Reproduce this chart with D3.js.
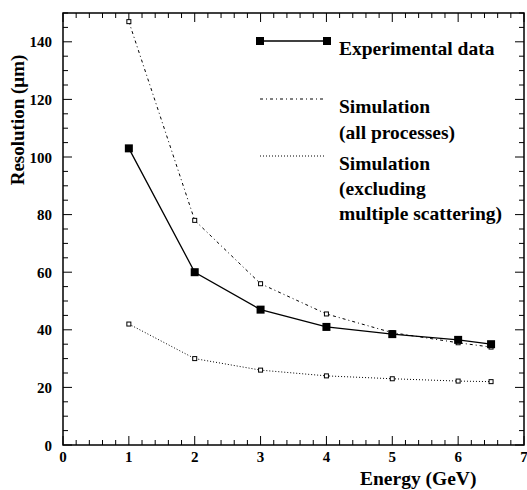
<!DOCTYPE html>
<html><head><meta charset="utf-8">
<script src="https://cdn.jsdelivr.net/npm/d3@7"></script>
<style>body{margin:0;background:#fff}</style>
</head><body><svg id="c" width="527" height="490" font-family="'Liberation Serif','Times New Roman','DejaVu Serif',serif" font-weight="bold"></svg>
<script>
const energy = [1, 2, 3, 4, 5, 6, 6.5];
const experimental = [103, 60, 47, 41, 38.5, 36.5, 35];
const simAll = [147, 78, 56, 45.5, 39, 35.5, 34];
const simNoMS = [42, 30, 26, 24, 23, 22.2, 22];
const xTicks = [0, 1, 2, 3, 4, 5, 6, 7];
const yTicks = [0, 20, 40, 60, 80, 100, 120, 140];

const svg = d3.select("#c");
const L = 63, R = 524, T = 13, B = 445;
const x = d3.scaleLinear().domain([0, 7]).range([L, R]);
const y = d3.scaleLinear().domain([0, 150]).range([B, T]);

const g = svg.append("g");
g.append("rect").attr("x", L).attr("y", T).attr("width", R - L).attr("height", B - T)
  .attr("fill", "none").attr("stroke", "#000").attr("stroke-width", 1.5);

const xMinor = d3.range(0, 7.001, 0.2);
const yMinor = d3.range(0, 150.001, 5);
xMinor.forEach(v => {
  const major = Math.abs(v - Math.round(v)) < 1e-6;
  const len = major ? 9 : 5;
  g.append("line").attr("x1", x(v)).attr("x2", x(v)).attr("y1", B).attr("y2", B - len).attr("stroke", "#000");
  g.append("line").attr("x1", x(v)).attr("x2", x(v)).attr("y1", T).attr("y2", T + len).attr("stroke", "#000");
});
yMinor.forEach(v => {
  const major = v % 20 === 0;
  const len = major ? 9 : 5;
  g.append("line").attr("x1", L).attr("x2", L + len).attr("y1", y(v)).attr("y2", y(v)).attr("stroke", "#000");
  g.append("line").attr("x1", R).attr("x2", R - len).attr("y1", y(v)).attr("y2", y(v)).attr("stroke", "#000");
});
xTicks.forEach(v => {
  g.append("text").attr("x", x(v)).attr("y", B + 17).attr("text-anchor", "middle")
    .attr("font-size", 15).text(v);
});
yTicks.forEach(v => {
  g.append("text").attr("x", L - 11).attr("y", y(v) + 5.5).attr("text-anchor", "end")
    .attr("font-size", 15).text(v);
});

g.append("text").attr("x", 360).attr("y", 485).attr("font-size", 19.5).text("Energy (GeV)");
g.append("text").attr("transform", "translate(24,120) rotate(-90)").attr("text-anchor", "middle")
  .attr("font-size", 19).text("Resolution (\u03bcm)");

const line = d3.line().x(d => x(d[0])).y(d => y(d[1]));
const zip = arr => energy.map((e, i) => [e, arr[i]]);

g.append("path").attr("d", line(zip(simAll))).attr("fill", "none").attr("stroke", "#000")
  .attr("stroke-width", 1).attr("stroke-dasharray", "3,3,1,3");
g.append("path").attr("d", line(zip(simNoMS))).attr("fill", "none").attr("stroke", "#000")
  .attr("stroke-width", 1).attr("stroke-dasharray", "1,2");
g.append("path").attr("d", line(zip(experimental))).attr("fill", "none").attr("stroke", "#000").attr("stroke-width", 1.3);

[simAll, simNoMS].forEach(s => {
  g.selectAll(null).data(zip(s)).enter().append("rect")
    .attr("x", d => x(d[0]) - 2).attr("y", d => y(d[1]) - 2).attr("width", 4).attr("height", 4)
    .attr("fill", "#fff").attr("stroke", "#000").attr("stroke-width", 1);
});
g.selectAll(null).data(zip(experimental)).enter().append("rect")
  .attr("x", d => x(d[0]) - 4).attr("y", d => y(d[1]) - 4).attr("width", 8).attr("height", 8).attr("fill", "#000");

// legend
const lx1 = 260;
g.append("line").attr("x1", lx1).attr("x2", 327).attr("y1", 41).attr("y2", 41).attr("stroke", "#000").attr("stroke-width", 1.3);
[lx1, 327].forEach(px => g.append("rect").attr("x", px - 4).attr("y", 37).attr("width", 8).attr("height", 8).attr("fill", "#000"));
g.append("line").attr("x1", lx1).attr("x2", 323).attr("y1", 99).attr("y2", 99).attr("stroke", "#000").attr("stroke-dasharray", "3,3,1,3");
g.append("line").attr("x1", lx1).attr("x2", 324).attr("y1", 156).attr("y2", 156).attr("stroke", "#000").attr("stroke-dasharray", "1,2");

const legendText = [["Experimental data", 55], ["Simulation", 113], ["(all processes)", 139], ["Simulation", 170], ["(excluding", 195], ["multiple scattering)", 220]];
legendText.forEach(([t, yy]) => g.append("text").attr("x", 339).attr("y", yy).attr("font-size", 19.5).text(t));
</script></body></html>
